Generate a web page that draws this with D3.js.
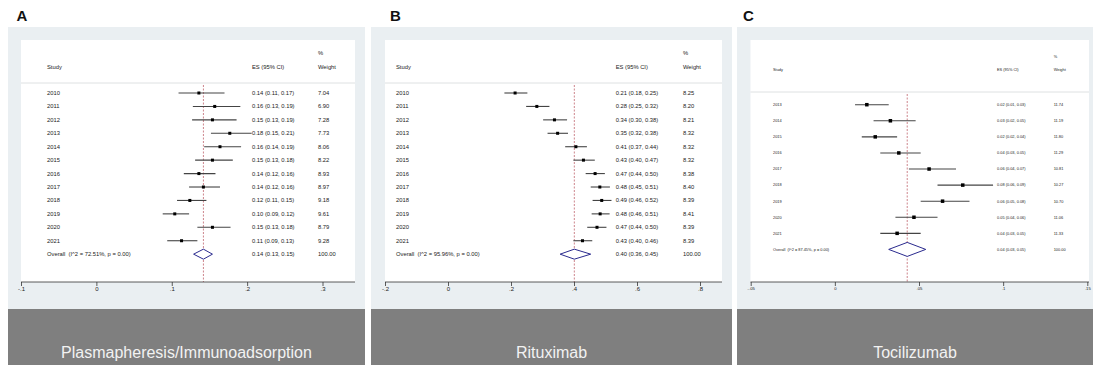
<!DOCTYPE html>
<html>
<head>
<meta charset="utf-8">
<script src="https://cdn.jsdelivr.net/npm/d3@7"></script>
<style>
  body { margin: 0; background: #fff; }
  text { font-family: "Liberation Sans", Arial, Helvetica, sans-serif; }
</style>
</head>
<body>
<div id="chart"></div>
<script>
// ---- data: panel A (Plasmapheresis/Immunoadsorption)
const yearsA = ["2010","2011","2012","2013","2014","2015","2016","2017","2018","2019","2020","2021"];
const esA = [0.136, 0.157, 0.154, 0.177, 0.164, 0.154, 0.136, 0.142, 0.124, 0.104, 0.154, 0.113];
const loA = [0.109, 0.128, 0.127, 0.152, 0.143, 0.131, 0.116, 0.123, 0.107, 0.088, 0.134, 0.094];
const hiA = [0.170, 0.191, 0.186, 0.206, 0.192, 0.181, 0.158, 0.164, 0.146, 0.123, 0.178, 0.134];
const weightA = [7.04, 6.90, 7.28, 7.73, 8.06, 8.22, 8.93, 8.97, 9.18, 9.61, 8.79, 9.28];
const overallA = [0.142, 0.129, 0.154]; // es, lo, hi
const i2A = "72.51%";
const ticksA = [-0.1, 0, 0.1, 0.2, 0.3];
const tickLabelsA = ["-.1", "0", ".1", ".2", ".3"];

// ---- data: panel B (Rituximab)
const yearsB = ["2010","2011","2012","2013","2014","2015","2016","2017","2018","2019","2020","2021"];
const esB = [0.213, 0.282, 0.338, 0.348, 0.406, 0.430, 0.467, 0.482, 0.488, 0.483, 0.473, 0.427];
const loB = [0.179, 0.248, 0.302, 0.316, 0.372, 0.398, 0.437, 0.453, 0.459, 0.456, 0.442, 0.398];
const hiB = [0.252, 0.322, 0.378, 0.381, 0.441, 0.466, 0.498, 0.514, 0.519, 0.513, 0.503, 0.458];
const weightB = [8.25, 8.20, 8.21, 8.32, 8.32, 8.32, 8.38, 8.40, 8.39, 8.41, 8.39, 8.39];
const overallB = [0.401, 0.356, 0.453];
const i2B = "95.96%";
const ticksB = [-0.2, 0, 0.2, 0.4, 0.6, 0.8];
const tickLabelsB = ["-.2", "0", ".2", ".4", ".6", ".8"];

// ---- data: panel C (Tocilizumab)
const yearsC = ["2013","2014","2015","2016","2017","2018","2019","2020","2021"];
const esC = [0.019, 0.033, 0.024, 0.038, 0.056, 0.076, 0.064, 0.047, 0.037];
const loC = [0.012, 0.023, 0.016, 0.027, 0.044, 0.061, 0.051, 0.036, 0.027];
const hiC = [0.032, 0.048, 0.037, 0.051, 0.072, 0.094, 0.080, 0.061, 0.051];
const weightC = [11.74, 11.19, 11.80, 11.29, 10.81, 10.27, 10.70, 11.06, 11.33];
const overallC = [0.043, 0.032, 0.054];
const i2C = "87.45%";
const ticksC = [-0.05, 0, 0.05, 0.1, 0.15];
const tickLabelsC = ["-.05", "0", ".05", ".1", ".15"];

const panels = [
  { letter: "A", title: "Plasmapheresis/Immunoadsorption",
    years: yearsA, es: esA, lo: loA, hi: hiA, w: weightA, overall: overallA, i2: i2A,
    ticks: ticksA, tickLabels: tickLabelsA,
    gx0: 8, gx1: 365, px0: 21, px1: 355, xr: [21, 322.5], letterX: 16.5,
    studyX: 47, esX: 252, wX: 318, rowTop: 93, rowStep: 13.43, headY: 67, pctY: 53, sepY: 83,
    font: 5.8, tickFont: 6, dia: 5, mk: 3 },
  { letter: "B", title: "Rituximab",
    years: yearsB, es: esB, lo: loB, hi: hiB, w: weightB, overall: overallB, i2: i2B,
    ticks: ticksB, tickLabels: tickLabelsB,
    gx0: 371, gx1: 732, px0: 385, px1: 722, xr: [385, 700], letterX: 390,
    studyX: 396, esX: 615.7, wX: 683, rowTop: 93, rowStep: 13.43, headY: 67, pctY: 53, sepY: 83,
    font: 5.8, tickFont: 6, dia: 5, mk: 3 },
  { letter: "C", title: "Tocilizumab",
    years: yearsC, es: esC, lo: loC, hi: hiC, w: weightC, overall: overallC, i2: i2C,
    ticks: ticksC, tickLabels: tickLabelsC,
    gx0: 737, gx1: 1093, px0: 750.5, px1: 1089, xr: [750.7, 1087.3], letterX: 743,
    studyX: 773, esX: 997, wX: 1053.7, rowTop: 104.7, rowStep: 16.08, headY: 70, pctY: 57, sepY: 92,
    font: 3.9, tickFont: 4.2, dia: 7, mk: 3.5 }
];

const W = 1093, H = 365;
const plotTop = 40, axisY = 282, footTop = 309;
const f2 = d3.format(".2f");

const svg = d3.select("#chart").append("svg")
  .attr("width", W)
  .attr("height", H);

panels.forEach(p => {
  const g = svg.append("g");

  // panel letter
  g.append("text")
    .attr("x", p.letterX).attr("y", 21)
    .attr("font-size", 15).attr("font-weight", "bold")
    .attr("fill", "#111")
    .text(p.letter);

  // graph region + plot region
  g.append("rect")
    .attr("x", p.gx0).attr("y", 27)
    .attr("width", p.gx1 - p.gx0).attr("height", footTop - 27)
    .attr("fill", "#eaeff2");
  g.append("rect")
    .attr("x", p.px0).attr("y", plotTop)
    .attr("width", p.px1 - p.px0).attr("height", axisY - plotTop)
    .attr("fill", "#fff");

  // footer
  g.append("rect")
    .attr("x", p.gx0).attr("y", footTop)
    .attr("width", p.gx1 - p.gx0).attr("height", H - footTop)
    .attr("fill", "#7f7f7f");
  g.append("text")
    .attr("x", (p.gx0 + p.gx1) / 2).attr("y", 358)
    .attr("text-anchor", "middle")
    .attr("font-size", 16)
    .attr("fill", "#f2f2f2")
    .text(p.title);

  const x = d3.scaleLinear()
    .domain([p.ticks[0], p.ticks[p.ticks.length - 1]])
    .range(p.xr);

  const rows = p.years.concat(["Overall"]);
  const y = d3.scalePoint()
    .domain(rows)
    .range([p.rowTop, p.rowTop + p.rowStep * (rows.length - 1)]);

  // headers
  const head = g.append("g")
    .attr("font-size", p.font)
    .attr("fill", "#222");
  head.append("text").attr("x", p.wX).attr("y", p.pctY).attr("dy", "0.35em").text("%");
  head.append("text").attr("x", p.studyX).attr("y", p.headY).attr("dy", "0.35em").text("Study");
  head.append("text").attr("x", p.esX).attr("y", p.headY).attr("dy", "0.35em").text("ES (95% CI)");
  head.append("text").attr("x", p.wX).attr("y", p.headY).attr("dy", "0.35em").text("Weight");

  g.append("line")
    .attr("x1", p.px0).attr("x2", p.px1)
    .attr("y1", p.sepY).attr("y2", p.sepY)
    .attr("stroke", "#d6d9db").attr("stroke-width", 0.8);

  // reference line at overall estimate
  g.append("line")
    .attr("x1", x(p.overall[0])).attr("x2", x(p.overall[0]))
    .attr("y1", p.sepY + 2).attr("y2", axisY)
    .attr("stroke", "#b8505a").attr("stroke-width", 0.7)
    .attr("stroke-dasharray", "2,1.5");

  const studies = p.years.map((yr, i) => ({ yr, es: p.es[i], lo: p.lo[i], hi: p.hi[i], w: p.w[i] }));

  // CI lines
  g.selectAll(".ci").data(studies).join("line")
    .attr("class", "ci")
    .attr("x1", d => x(d.lo)).attr("x2", d => x(d.hi))
    .attr("y1", d => y(d.yr)).attr("y2", d => y(d.yr))
    .attr("stroke", "#444").attr("stroke-width", 1.1);

  // point estimates
  g.selectAll(".pt").data(studies).join("rect")
    .attr("class", "pt")
    .attr("x", d => x(d.es) - p.mk / 2)
    .attr("y", d => y(d.yr) - p.mk / 2)
    .attr("width", p.mk).attr("height", p.mk)
    .attr("fill", "#000");

  // overall diamond
  const oy = y("Overall");
  const [oes, olo, ohi] = p.overall;
  g.append("path")
    .attr("d", `M${x(olo)},${oy}L${x(oes)},${oy - p.dia}L${x(ohi)},${oy}L${x(oes)},${oy + p.dia}Z`)
    .attr("fill", "#fff")
    .attr("stroke", "#2a2a8e").attr("stroke-width", 1);

  // text columns
  const txt = g.append("g").attr("font-size", p.font).attr("fill", "#222");
  txt.selectAll(".yr").data(studies).join("text")
    .attr("x", p.studyX).attr("y", d => y(d.yr)).attr("dy", "0.35em")
    .text(d => d.yr);
  txt.selectAll(".es").data(studies).join("text")
    .attr("x", p.esX).attr("y", d => y(d.yr)).attr("dy", "0.35em")
    .text(d => `${f2(d.es)} (${f2(d.lo)}, ${f2(d.hi)})`);
  txt.selectAll(".wt").data(studies).join("text")
    .attr("x", p.wX).attr("y", d => y(d.yr)).attr("dy", "0.35em")
    .text(d => f2(d.w));
  txt.append("text")
    .attr("x", p.studyX).attr("y", oy).attr("dy", "0.35em")
    .attr("xml:space", "preserve")
    .text(`Overall  (I^2 = ${p.i2}, p = 0.00)`);
  txt.append("text")
    .attr("x", p.esX).attr("y", oy).attr("dy", "0.35em")
    .text(`${f2(oes)} (${f2(olo)}, ${f2(ohi)})`);
  txt.append("text")
    .attr("x", p.wX).attr("y", oy).attr("dy", "0.35em")
    .text("100.00");

  // x axis
  const axis = g.append("g")
    .attr("transform", `translate(0,${axisY})`)
    .call(d3.axisBottom(x)
      .tickValues(p.ticks)
      .tickFormat((d, i) => p.tickLabels[i])
      .tickSize(4)
      .tickPadding(1));
  axis.select(".domain").remove();
  axis.selectAll(".tick line").attr("stroke", "#333").attr("stroke-width", 0.8);
  axis.selectAll(".tick text")
    .attr("font-size", p.tickFont)
    .attr("font-family", "Liberation Sans, Arial, sans-serif")
    .attr("fill", "#222");
  g.append("line")
    .attr("x1", p.px0).attr("x2", p.px1)
    .attr("y1", axisY).attr("y2", axisY)
    .attr("stroke", "#333").attr("stroke-width", 0.8);
});
</script>
</body>
</html>
